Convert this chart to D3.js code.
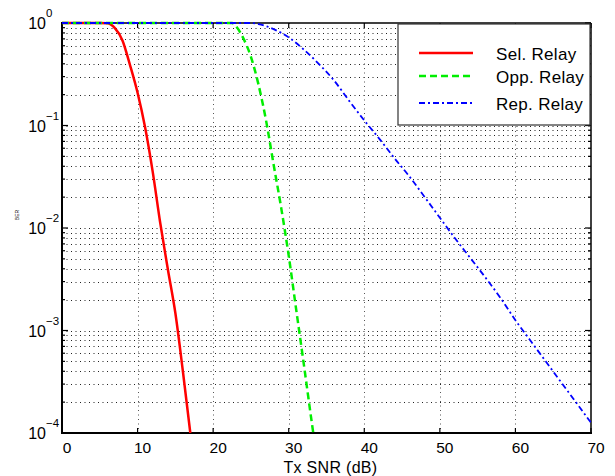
<!DOCTYPE html>
<html>
<head>
<meta charset="utf-8">
<script src="https://cdn.jsdelivr.net/npm/d3@7"></script>
<style>
  body { margin: 0; background: #fff; }
  svg { display: block; font-family: "Liberation Sans", Arial, sans-serif; }
</style>
</head>
<body>
<div id="chart"></div>
<script>
const selSnr = [0, 5, 6, 7, 8, 9, 10, 11, 12, 13, 14, 15, 16, 16.98];
const selBer = [1, 1, 0.995, 0.89, 0.676, 0.389, 0.209, 0.0955, 0.0355, 0.0112, 0.00398, 0.00148, 0.000398, 0.0001];

const oppSnr = [0, 22.5, 23, 24, 25, 26, 27, 28, 29, 30, 31, 32, 33, 33.25];
const oppBer = [1, 1, 0.933, 0.708, 0.468, 0.251, 0.112, 0.0417, 0.0158, 0.00537, 0.00158, 0.000468, 0.000135, 0.0001];

const repSnr = [0, 25, 26, 28, 30, 32, 34, 36, 38, 40, 42, 44, 46, 48, 50, 52, 54, 56, 58, 60, 62, 64, 66, 68, 70];
const repBer = [1, 1, 0.977, 0.871, 0.724, 0.55, 0.398, 0.275, 0.174, 0.112, 0.0741, 0.0479, 0.0316, 0.02, 0.0126,
                0.00794, 0.00513, 0.00331, 0.00209, 0.00126, 0.000794, 0.000501, 0.000316, 0.0002, 0.000126];

const xTicks = [0, 10, 20, 30, 40, 50, 60, 70];
const yExps = [0, -1, -2, -3, -4];
const seriesNames = ["Sel. Relay", "Opp. Relay", "Rep. Relay"];

const showViz = ()=>{

  const width = 615;
  const height = 476;
  const left = 62, right = 591, top = 23, bottom = 433;

  let svg = d3.select("#chart")
              .append("svg")
                .attr("width", width)
                .attr("height", height);

  let x = d3.scaleLinear().domain([0, 70]).range([left, right]);
  let y = d3.scaleLog().domain([1e-4, 1]).range([bottom, top]);

  // minor log positions 2..9 for each decade
  let minorVals = [];
  for (let e = -4; e < 0; e++) {
    for (let m = 2; m <= 9; m++) minorVals.push(m * Math.pow(10, e));
  }

  // dotted grid
  let grid = svg.append("g").attr("stroke", "#222").attr("stroke-width", 1)
                .attr("stroke-dasharray", "1,3.5");
  grid.selectAll(".gh")
      .data(minorVals.concat(yExps.slice(1, 4).map(e => Math.pow(10, e))))
      .join("line")
        .attr("x1", left).attr("x2", right)
        .attr("y1", d => Math.round(y(d)) + 0.5)
        .attr("y2", d => Math.round(y(d)) + 0.5);
  grid.selectAll(".gv")
      .data(xTicks.slice(1, -1))
      .join("line")
        .attr("stroke", "#555")
        .attr("x1", d => Math.round(x(d)) + 0.5).attr("x2", d => Math.round(x(d)) + 0.5)
        .attr("y1", top).attr("y2", bottom);

  // ticks (inward), both sides
  let ticks = svg.append("g").attr("stroke", "#000").attr("stroke-width", 1.2);
  yExps.forEach(e => {
    let yy = y(Math.pow(10, e));
    ticks.append("line").attr("x1", left).attr("x2", left + 6).attr("y1", yy).attr("y2", yy);
    ticks.append("line").attr("x1", right).attr("x2", right - 6).attr("y1", yy).attr("y2", yy);
  });
  minorVals.forEach(v => {
    let yy = y(v);
    ticks.append("line").attr("x1", left).attr("x2", left + 3).attr("y1", yy).attr("y2", yy);
    ticks.append("line").attr("x1", right).attr("x2", right - 3).attr("y1", yy).attr("y2", yy);
  });
  xTicks.forEach(t => {
    let xx = x(t);
    ticks.append("line").attr("x1", xx).attr("x2", xx).attr("y1", bottom).attr("y2", bottom - 5);
    ticks.append("line").attr("x1", xx).attr("x2", xx).attr("y1", top).attr("y2", top + 5);
  });

  // box
  svg.append("line").attr("x1", left).attr("x2", right).attr("y1", top).attr("y2", top)
     .attr("stroke", "#000").attr("stroke-width", 1.5);
  svg.append("line").attr("x1", right).attr("x2", right).attr("y1", top).attr("y2", bottom)
     .attr("stroke", "#000").attr("stroke-width", 1.5);
  svg.append("line").attr("x1", left).attr("x2", left).attr("y1", top - 1).attr("y2", bottom + 1)
     .attr("stroke", "#000").attr("stroke-width", 2);
  svg.append("line").attr("x1", left - 1).attr("x2", right + 1).attr("y1", bottom).attr("y2", bottom)
     .attr("stroke", "#000").attr("stroke-width", 2);

  // curves
  svg.append("clipPath").attr("id", "clip")
     .append("rect").attr("x", left).attr("y", top - 2).attr("width", right - left).attr("height", bottom - top + 2);

  const styles = [
    {color: "#ff0000", dash: null, w: 2.5},
    {color: "#00ee00", dash: "7,4", w: 2.5},
    {color: "#0000ff", dash: "6,3,2,3", w: 1.8}
  ];
  const series = [
    selSnr.map((s, i) => [s, selBer[i]]),
    oppSnr.map((s, i) => [s, oppBer[i]]),
    repSnr.map((s, i) => [s, repBer[i]])
  ];
  let line = d3.line().x(d => x(d[0])).y(d => y(d[1])).curve(d3.curveMonotoneX);
  let curves = svg.append("g").attr("clip-path", "url(#clip)");
  series.forEach((s, i) => {
    curves.append("path")
      .attr("d", line(s))
      .attr("fill", "none")
      .attr("stroke", styles[i].color)
      .attr("stroke-width", styles[i].w)
      .attr("stroke-dasharray", styles[i].dash);
  });

  // tick labels (the original sits a few px right of its ticks)
  let xl = svg.append("g").attr("font-size", 15.5).attr("text-anchor", "middle").attr("fill", "#000");
  xTicks.forEach(t => {
    xl.append("text").attr("x", x(t) + 5).attr("y", 453).text(t);
  });
  let yl = svg.append("g").attr("fill", "#000");
  yExps.forEach(e => {
    let yy = y(Math.pow(10, e));
    yl.append("text").attr("x", 46).attr("y", yy + 6).attr("font-size", 16)
      .attr("text-anchor", "end").text("10");
    yl.append("text").attr("x", 46).attr("y", yy - 6).attr("font-size", 11.5)
      .attr("text-anchor", "start").text(e === 0 ? "0" : "\u2212" + Math.abs(e));
  });

  svg.append("text").attr("x", (left + right) / 2 + 4).attr("y", 473)
     .attr("font-size", 16).attr("letter-spacing", 0.3).attr("text-anchor", "middle").text("Tx SNR (dB)");
  svg.append("text").attr("transform", "translate(19,215) rotate(-90)")
     .attr("font-size", 5).attr("text-anchor", "middle").text("BER");

  // legend
  let lg = svg.append("g");
  lg.append("rect").attr("x", 398).attr("y", 24).attr("width", 192).attr("height", 101)
    .attr("fill", "#fff").attr("stroke", "#333").attr("stroke-width", 1.2);
  const legY = [53, 76, 103];
  seriesNames.forEach((n, i) => {
    lg.append("line").attr("x1", 419).attr("x2", 473).attr("y1", legY[i]).attr("y2", legY[i])
      .attr("stroke", styles[i].color).attr("stroke-width", styles[i].w)
      .attr("stroke-dasharray", styles[i].dash);
    lg.append("text").attr("x", 496).attr("y", legY[i] + 6.5).attr("font-size", 17)
      .attr("letter-spacing", 0.3).text(n);
  });
}

showViz()
</script>
</body>
</html>
